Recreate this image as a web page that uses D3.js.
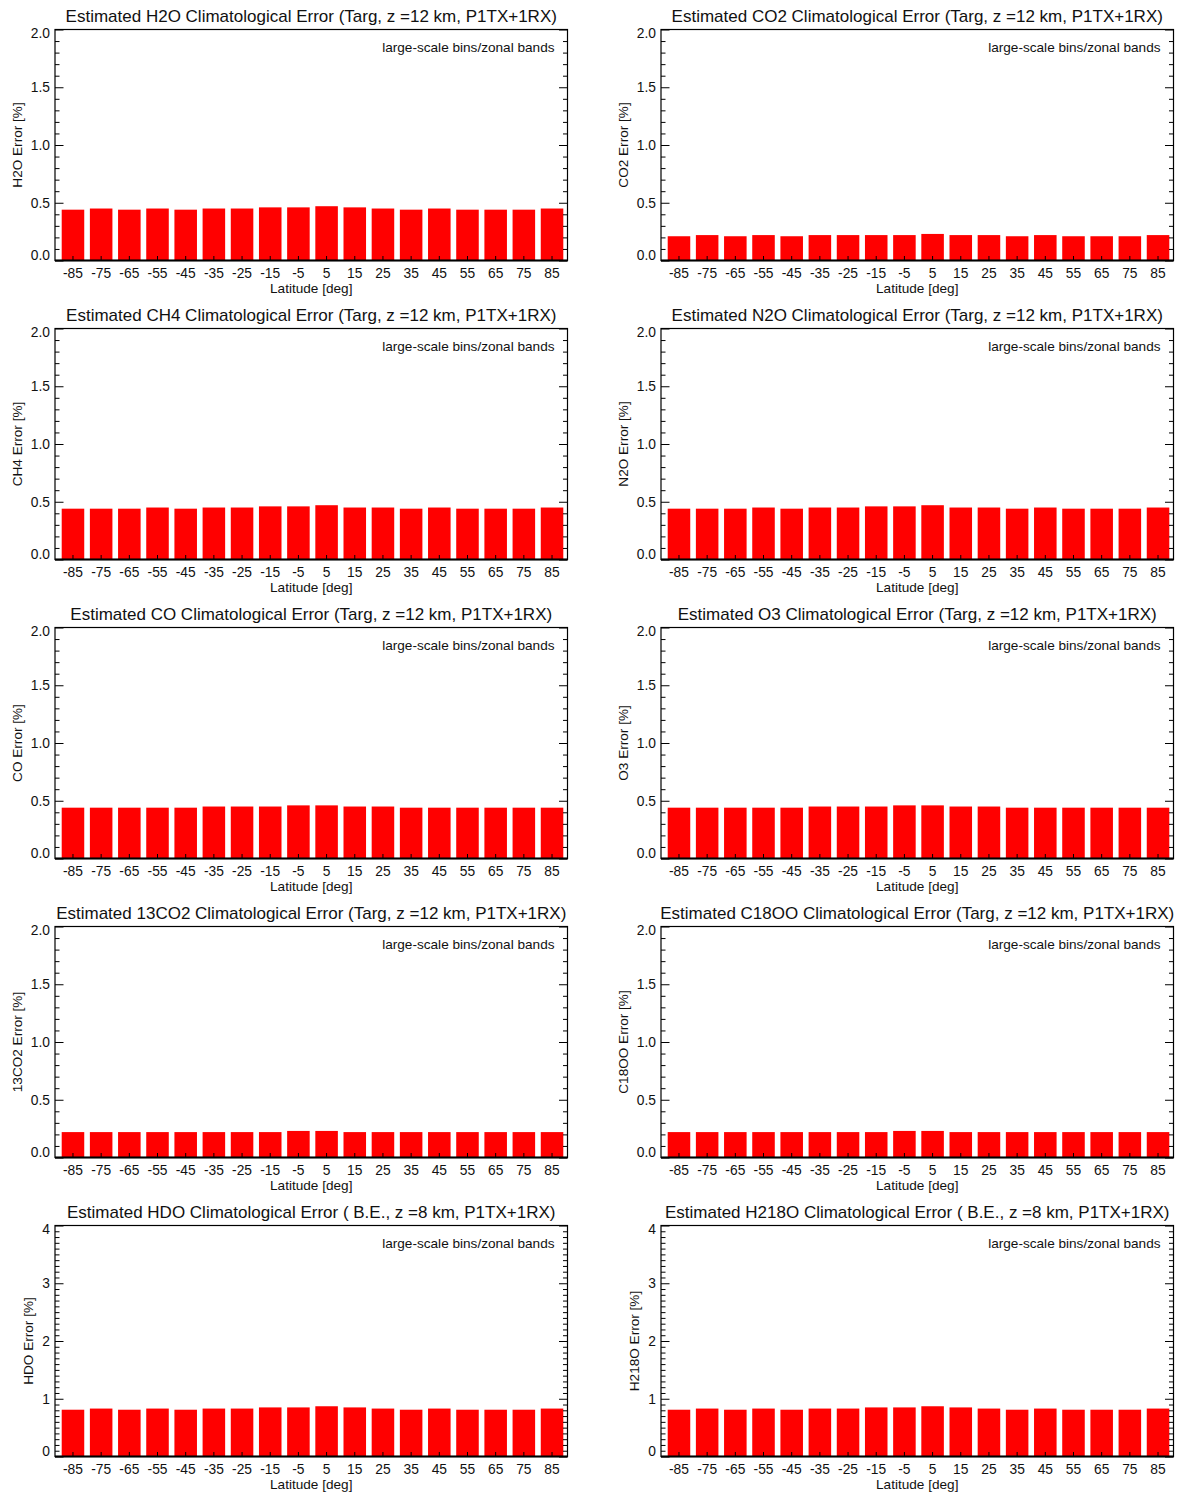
<!DOCTYPE html>
<html>
<head>
<meta charset="utf-8">
<script src="https://cdn.jsdelivr.net/npm/d3@7"></script>
<style>
  body { margin: 0; background: #fff; }
  svg { display: block; font-family: "Liberation Sans", Arial, Helvetica, sans-serif; }
</style>
</head>
<body>
<svg id="chart" width="1177" height="1492"></svg>
<script>
// latitude bins (band centres)
const latitudes = [-85, -75, -65, -55, -45, -35, -25, -15, -5, 5, 15, 25, 35, 45, 55, 65, 75, 85];

// error values [%]
const h2oErr   = [0.44, 0.45, 0.44, 0.45, 0.44, 0.45, 0.45, 0.46, 0.46, 0.47, 0.46, 0.45, 0.44, 0.45, 0.44, 0.44, 0.44, 0.45];
const co2Err   = [0.21, 0.22, 0.21, 0.22, 0.21, 0.22, 0.22, 0.22, 0.22, 0.23, 0.22, 0.22, 0.21, 0.22, 0.21, 0.21, 0.21, 0.22];
const ch4Err   = [0.44, 0.44, 0.44, 0.45, 0.44, 0.45, 0.45, 0.46, 0.46, 0.47, 0.45, 0.45, 0.44, 0.45, 0.44, 0.44, 0.44, 0.45];
const n2oErr   = [0.44, 0.44, 0.44, 0.45, 0.44, 0.45, 0.45, 0.46, 0.46, 0.47, 0.45, 0.45, 0.44, 0.45, 0.44, 0.44, 0.44, 0.45];
const coErr    = [0.44, 0.44, 0.44, 0.44, 0.44, 0.45, 0.45, 0.45, 0.46, 0.46, 0.45, 0.45, 0.44, 0.44, 0.44, 0.44, 0.44, 0.44];
const o3Err    = [0.44, 0.44, 0.44, 0.44, 0.44, 0.45, 0.45, 0.45, 0.46, 0.46, 0.45, 0.45, 0.44, 0.44, 0.44, 0.44, 0.44, 0.44];
const co13Err  = [0.22, 0.22, 0.22, 0.22, 0.22, 0.22, 0.22, 0.22, 0.23, 0.23, 0.22, 0.22, 0.22, 0.22, 0.22, 0.22, 0.22, 0.22];
const c18ooErr = [0.22, 0.22, 0.22, 0.22, 0.22, 0.22, 0.22, 0.22, 0.23, 0.23, 0.22, 0.22, 0.22, 0.22, 0.22, 0.22, 0.22, 0.22];
const hdoErr   = [0.81, 0.83, 0.81, 0.83, 0.81, 0.83, 0.83, 0.85, 0.85, 0.87, 0.85, 0.83, 0.81, 0.83, 0.81, 0.81, 0.81, 0.83];
const h218oErr = [0.81, 0.83, 0.81, 0.83, 0.81, 0.83, 0.83, 0.85, 0.85, 0.87, 0.85, 0.83, 0.81, 0.83, 0.81, 0.81, 0.81, 0.83];

const species  = ["H2O", "CO2", "CH4", "N2O", "CO", "O3", "13CO2", "C18OO", "HDO", "H218O"];
const seriesList = [h2oErr, co2Err, ch4Err, n2oErr, coErr, o3Err, co13Err, c18ooErr, hdoErr, h218oErr];
const setups   = ["Targ, z =12 km, P1TX+1RX", "Targ, z =12 km, P1TX+1RX", "Targ, z =12 km, P1TX+1RX",
                  "Targ, z =12 km, P1TX+1RX", "Targ, z =12 km, P1TX+1RX", "Targ, z =12 km, P1TX+1RX",
                  "Targ, z =12 km, P1TX+1RX", "Targ, z =12 km, P1TX+1RX",
                  " B.E., z =8 km, P1TX+1RX", " B.E., z =8 km, P1TX+1RX"];
const yMaxes   = [2, 2, 2, 2, 2, 2, 2, 2, 4, 4];
const noteText = "large-scale bins/zonal bands";
const xTitle   = "Latitude [deg]";

const svg = d3.select("#chart");
const colLeft = [55, 661];
const plotW = 512.5;
const plotH = 231;
const rowTop = 29.5;
const rowStep = 299;

species.forEach(function(sp, i) {
    const col = i % 2, row = Math.floor(i / 2);
    const left = colLeft[col], top = rowTop + row * rowStep;
    const g = svg.append("g").attr("transform", `translate(${left},${top})`);
    const yMax = yMaxes[i];

    const x = d3.scaleBand().domain(latitudes).range([6.7, 508.3]).paddingInner(0.2).paddingOuter(0);
    const y = d3.scaleLinear().domain([0, yMax]).range([plotH, 0]);
    const majorStep = yMax > 2 ? 1 : 0.5;
    const majors = d3.range(0, yMax + 1e-9, majorStep);
    const minors = d3.range(0, yMax + 1e-9, 0.1).filter(v => Math.abs(v / majorStep - Math.round(v / majorStep)) > 1e-6);
    const fmt = yMax > 2 ? d3.format("d") : d3.format(".1f");

    // bars
    g.selectAll("rect.bar").data(seriesList[i]).enter().append("rect")
        .attr("class", "bar")
        .attr("x", (d, k) => x(latitudes[k]))
        .attr("width", x.bandwidth())
        .attr("y", d => y(d))
        .attr("height", d => y(0) - y(d))
        .attr("fill", "#ff0000");

    // left axis
    const yl = g.append("g").call(d3.axisLeft(y).tickValues(majors).tickFormat(fmt)
        .tickSizeInner(-8.5).tickSizeOuter(0).tickPadding(5));
    g.append("g").call(d3.axisLeft(y).tickValues(minors).tickFormat("")
        .tickSizeInner(-4.5).tickSizeOuter(0));
    // right axis
    g.append("g").attr("transform", `translate(${plotW},0)`)
        .call(d3.axisRight(y).tickValues(majors).tickFormat("").tickSizeInner(-8.5).tickSizeOuter(0));
    g.append("g").attr("transform", `translate(${plotW},0)`)
        .call(d3.axisRight(y).tickValues(minors).tickFormat("").tickSizeInner(-4.5).tickSizeOuter(0));
    // bottom axis
    g.append("g").attr("transform", `translate(0,${plotH})`)
        .call(d3.axisBottom(x).tickSizeInner(-4.5).tickSizeOuter(0).tickPadding(8));

    g.selectAll(".domain").remove();
    g.selectAll(".tick line").attr("stroke", "#000").attr("stroke-width", 1);
    g.selectAll(".tick text").attr("fill", "#111").style("font-size", "13.8px")
        .style("font-family", "\"Liberation Sans\", Arial, sans-serif");

    // end labels are kept inside the frame height
    yl.selectAll(".tick text").attr("dy", d => d === 0 ? "-0.05em" : (d === yMax ? "0.58em" : "0.32em"));

    // frame
    g.append("rect").attr("x", 0).attr("y", 0).attr("width", plotW).attr("height", plotH)
        .attr("fill", "none").attr("stroke", "#000").attr("stroke-width", 1.2);
    g.append("line").attr("x1", 0).attr("x2", plotW).attr("y1", plotH).attr("y2", plotH)
        .attr("stroke", "#000").attr("stroke-width", 2);

    // y title, placed left of the widest tick label
    let labW = 0;
    yl.selectAll(".tick text").each(function() { labW = Math.max(labW, this.getComputedTextLength()); });
    g.append("text")
        .attr("transform", `translate(${-5 - labW - 9},${plotH / 2}) rotate(-90)`)
        .attr("text-anchor", "middle")
        .style("font-size", "13.6px").attr("fill", "#111")
        .text(sp + " Error [%]");

    // x title
    g.append("text").attr("x", plotW / 2).attr("y", plotH + 32)
        .attr("text-anchor", "middle").style("font-size", "13.6px").attr("fill", "#111")
        .text(xTitle);

    // main title
    g.append("text").attr("x", plotW / 2).attr("y", -7.5)
        .attr("text-anchor", "middle").style("font-size", "17px").attr("fill", "#111")
        .text(`Estimated ${sp} Climatological Error (${setups[i]})`);

    // note
    g.append("text").attr("x", plotW - 13).attr("y", 22)
        .attr("text-anchor", "end").style("font-size", "13.6px").attr("fill", "#111")
        .text(noteText);
});
</script>
</body>
</html>
